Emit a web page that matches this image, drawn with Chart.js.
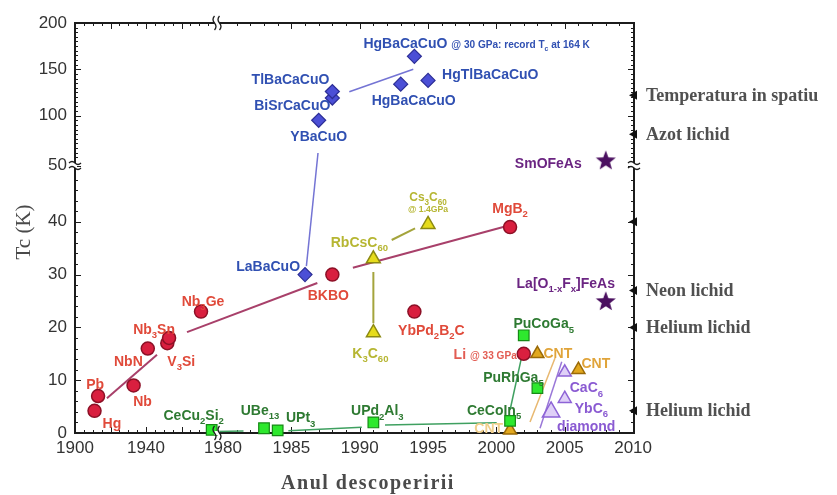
<!DOCTYPE html>
<html>
<head>
<meta charset="utf-8">
<script src="https://cdn.jsdelivr.net/npm/chart.js@4.4.1/dist/chart.umd.min.js"></script>
<style>
  html, body { margin: 0; padding: 0; background: #fff; }
  #wrap { width: 837px; height: 495px; position: relative; }
</style>
</head>
<body>
<div id="wrap"><canvas id="c" width="837" height="495"></canvas></div>
<script>
// ---- Superconductor discoveries: year and critical temperature Tc (K) ----
const convNames = ['Hg', 'Pb', 'Nb', 'NbN', 'V_{3}Si', 'Nb_{3}Sn', 'Nb_{3}Ge', 'BKBO', 'YbPd_{2}B_{2}C', 'MgB_{2}', 'Li ~{@ 33 GPa}'];
const convYears = [1911, 1913, 1933, 1941, 1952, 1953, 1971, 1988, 1994, 2001, 2002];
const convTc    = [4.2, 7, 9, 16, 17, 18, 23, 30, 23, 39, 15];

const cuprateNames = ['LaBaCuO', 'YBaCuO', 'BiSrCaCuO', 'TlBaCaCuO', 'HgBaCaCuO', 'HgBaCaCuO ~{@ 30 GPa: record T}~_{c}~{ at 164 K}', 'HgTlBaCaCuO'];
const cuprateYears = [1986, 1987, 1988, 1988, 1993, 1994, 1995];
const cuprateTc    = [30, 95, 119, 126, 134, 164, 138];

const fullereneNames = ['RbCsC_{60}', 'K_{3}C_{60}', 'Cs_{3}C_{60}|~{@ 1.4GPa}'];
const fullereneYears = [1991, 1991, 1995];
const fullereneTc    = [33, 19, 39.5];

const heavyNames = ['CeCu_{2}Si_{2}', 'UBe_{13}', 'UPt_{3}', 'UPd_{2}Al_{3}', 'CeCoIn_{5}', 'PuRhGa_{5}', 'PuCoGa_{5}'];
const heavyYears = [1977, 1983, 1984, 1991, 2001, 2003, 2002];
const heavyTc    = [0.6, 0.9, 0.5, 2, 2.3, 8.5, 18.5];

const cntNames = ['CNT', 'CNT', 'CNT'];
const cntYears = [2001, 2003, 2006];
const cntTc    = [0.5, 15, 12];

const graphiteNames = ['diamond', 'YbC_{6}', 'CaC_{6}'];
const graphiteYears = [2004, 2005, 2005];
const graphiteTc    = [4, 6.5, 11.5];

const pnictideNames = ['SmOFeAs', 'La[O_{1-x}F_{x}]FeAs'];
const pnictideYears = [2008, 2008];
const pnictideTc    = [52, 25];

// Trend lines joining each family (segment end points: year, Tc)
const convTrendYears     = [[1918.0, 1946.2], [1963.1, 1986.9], [1989.5, 2000.5]];
const convTrendTc        = [[6.6, 14.8], [19.1, 28.4], [31.3, 39.0]];
const cuprateTrendYears  = [[1986.1, 1986.95], [1989.24, 1993.92]];
const cuprateTrendTc     = [[31.6, 59.7], [125.8, 150]];
const fullereneTrendYears = [[1991, 1991], [1992.34, 1994.05]];
const fullereneTrendTc    = [[30.5, 20.8], [36.55, 38.77]];
const heavyTrendYears    = [[1979.8, 1981.5], [1984.78, 1990.15], [1991.85, 2000.02], [2001.0, 2001.85]];
const heavyTrendTc       = [[0.3, 0.4], [0.44, 1.08], [1.5, 1.95], [4.36, 14.45]];
const cntTrendYears      = [[2002.46, 2004.29]];
const cntTrendTc         = [[2.1, 14.2]];
const graphiteTrendYears = [[2003.19, 2004.78]];
const graphiteTrendTc    = [[0.9, 13.5]];

// Reference temperatures marked on the right-hand axis
const refNames = ['Temperatura in spatiu', 'Azot lichid', '', 'Neon lichid', 'Helium lichid', 'Helium lichid'];
const refTc    = [122, 80, 40, 27, 20, 4.2];

// Axis ticks
const xTickValues = [1900, 1940, 1980, 1985, 1990, 1995, 2000, 2005, 2010];
const xTickLabels = ['1900', '1940', '1980', '1985', '1990', '1995', '2000', '2005', '2010'];
const yTickValues = [0, 10, 20, 30, 40, 50, 100, 150, 200];
const yTickLabels = ['0', '10', '20', '30', '40', '50', '100', '150', '200'];

// ---- Broken axes: 1900-1980 compressed, Tc above 50 K compressed ----
const axisMaps = {
  x: {
    fwd: yr => yr < 1980 ? (yr - 1900) * 1.775 : 148 + (yr - 1980) * 13.67,
    lo: 0, hi: 559, ticks: xTickValues
  },
  y: {
    fwd: v => v < 50 ? v * 5.28 : (v > 50 ? 271 + (v - 50) * 0.927 : 267.5),
    lo: 0, hi: 410, ticks: yTickValues
  }
};

class BrokenLinearScale extends Chart.LinearScale {
  determineDataLimits() {
    const m = axisMaps[this.id];
    this.min = m.lo;
    this.max = m.hi;
  }
  buildTicks() {
    return axisMaps[this.id].ticks.map(v => ({ value: v }));
  }
  getPixelForValue(v) {
    if (v === null || v === undefined) return NaN;
    return super.getPixelForValue(axisMaps[this.id].fwd(v));
  }
}
BrokenLinearScale.id = 'brokenLinear';
BrokenLinearScale.defaults = {};
Chart.register(BrokenLinearScale);

// ---- Label placement (pixel offsets from each marker) ----
const convLabelPos = [
  [8, 12, 'left'], [-3, -12, 'center'], [9, 15, 'center'], [-5, 12, 'right'], [0, 18, 'left'],
  [-15, -9, 'center'], [2, -11, 'center'], [-4, 20, 'center'], [17, 18, 'center'], [0, -19, 'center'],
  [-7, 0, 'right', '#e25c52']
];
const cuprateLabelPos = [
  [-5, -9, 'right'], [0, 16, 'center'], [-2, 7, 'right'], [-3, -13, 'right'],
  [13, 16, 'center'], [-51, -13, 'left'], [14, -6, 'left']
];
const fullereneLabelPos = [[-14, -17, 'center'], [-3, 20, 'center'], [0, -22, 'center', null, 12]];
const heavyLabelPos = [
  [-18, -15, 'center'], [-4, -18, 'center'], [23, -13, 'center'], [4, -12, 'center'],
  [-16, -11, 'center'], [-24, -11, 'center'], [20, -12, 'center']
];
const cntLabelPos = [[-7, -2, 'right', '#f0cf8c'], [6, -1, 'left'], [3, -7, 'left']];
const graphiteLabelPos = [[6, 14, 'left'], [10, 9, 'left'], [5, 15, 'left']];
const pnictideLabelPos = [[-24, 3, 'right'], [-40, -18, 'center']];

// Filled five-pointed star used as a point style
const starImg = (() => {
  const c = document.createElement('canvas');
  c.width = 22; c.height = 22;
  const g = c.getContext('2d');
  g.beginPath();
  for (let i = 0; i < 10; i++) {
    const r = i % 2 ? 4.4 : 10.5;
    const a = -Math.PI / 2 + i * Math.PI / 5;
    g.lineTo(11 + r * Math.cos(a), 11.8 + r * Math.sin(a));
  }
  g.closePath();
  g.fillStyle = '#4b1060';
  g.fill();
  return c;
})();

function points(years, tc) {
  return years.map((yr, i) => ({ x: yr, y: tc[i] }));
}

function markerSet(names, years, tc, pos, textColor, style) {
  return Object.assign({
    data: points(years, tc),
    names: names,
    labelPos: pos,
    textColor: textColor,
    showLine: false,
    clip: false,
    order: 0
  }, style);
}

function trendSets(yearsList, tcList, color, width) {
  return yearsList.map((yrs, i) => ({
    data: points(yrs, tcList[i]),
    showLine: true,
    borderColor: color,
    borderWidth: width,
    pointRadius: 0,
    clip: false,
    order: 1
  }));
}

const datasets = [
  markerSet(convNames, convYears, convTc, convLabelPos, '#e04a3a',
    { pointStyle: 'circle', pointRadius: 6.5, backgroundColor: '#d91f3f', borderColor: '#8c1026', borderWidth: 1.5 }),
  markerSet(cuprateNames, cuprateYears, cuprateTc, cuprateLabelPos, '#3050b2',
    { pointStyle: 'rectRot', pointRadius: 7, backgroundColor: '#4b4fd6', borderColor: '#2c2e96', borderWidth: 1.2 }),
  markerSet(fullereneNames, fullereneYears, fullereneTc, fullereneLabelPos, '#b6b632',
    { pointStyle: 'triangle', pointRadius: 8, backgroundColor: '#e6dc1c', borderColor: '#8c8a12', borderWidth: 1.5 }),
  markerSet(heavyNames, heavyYears, heavyTc, heavyLabelPos, '#2e7a32',
    { pointStyle: 'rect', pointRadius: 7.5, backgroundColor: '#2ee82e', borderColor: '#168a16', borderWidth: 1.2 }),
  markerSet(cntNames, cntYears, cntTc, cntLabelPos, '#e0a43a',
    { pointStyle: 'triangle', pointRadius: 7.5, backgroundColor: '#e2a81e', borderColor: '#9a6a08', borderWidth: 1.5 }),
  markerSet(graphiteNames, graphiteYears, graphiteTc, graphiteLabelPos, '#8a5ad2',
    { pointStyle: 'triangle', pointRadius: [10, 7.5, 7.5], backgroundColor: 'rgba(196,170,240,0.55)', borderColor: '#8d63d6', borderWidth: 1.5 }),
  markerSet(pnictideNames, pnictideYears, pnictideTc, pnictideLabelPos, '#6b2582',
    { pointStyle: starImg, pointRadius: 10 }),
  ...trendSets(convTrendYears, convTrendTc, '#a8406a', 2),
  ...trendSets(cuprateTrendYears, cuprateTrendTc, '#7474d4', 1.5),
  ...trendSets(fullereneTrendYears, fullereneTrendTc, '#a4a43c', 2),
  ...trendSets(heavyTrendYears, heavyTrendTc, '#3fa060', 1.5),
  ...trendSets(cntTrendYears, cntTrendTc, '#e8b870', 1.5),
  ...trendSets(graphiteTrendYears, graphiteTrendTc, '#9a78d8', 1.5)
];

// ---- Rich text with subscripts (_{..}) and small runs (~{..}, ~_{..}) ----
const LABEL_FONT = '"Liberation Sans", Arial, sans-serif';
function runsOf(line) {
  const re = /~_\{([^}]*)\}|~\{([^}]*)\}|_\{([^}]*)\}|([^_~]+)/g;
  const out = [];
  let m;
  while ((m = re.exec(line))) {
    if (m[1] !== undefined) out.push({ t: m[1], small: true, sub: true });
    else if (m[2] !== undefined) out.push({ t: m[2], small: true, sub: false });
    else if (m[3] !== undefined) out.push({ t: m[3], small: false, sub: true });
    else out.push({ t: m[4], small: false, sub: false });
  }
  return out;
}
function drawRich(ctx, text, x, y, size, color, align) {
  const lines = text.split('|');
  const lh = size * 0.95;
  ctx.fillStyle = color;
  ctx.textBaseline = 'alphabetic';
  ctx.textAlign = 'left';
  lines.forEach((line, li) => {
    const cy = y + (li - (lines.length - 1) / 2) * lh;
    const runs = runsOf(line).map(r => {
      const base = r.small ? size * 0.72 : size;
      const s = r.sub ? base * 0.68 : base;
      ctx.font = 'bold ' + s + 'px ' + LABEL_FONT;
      return Object.assign(r, { s: s, dy: r.sub ? base * 0.3 : 0, w: ctx.measureText(r.t).width });
    });
    const total = runs.reduce((a, r) => a + r.w, 0);
    let xx = align === 'left' ? x : (align === 'right' ? x - total : x - total / 2);
    const baseline = cy + size * 0.36;
    runs.forEach(r => {
      ctx.font = 'bold ' + r.s + 'px ' + LABEL_FONT;
      ctx.fillText(r.t, xx, baseline + r.dy);
      xx += r.w;
    });
  });
}

function wavyH(ctx, x, y, half) {
  ctx.beginPath();
  ctx.moveTo(x - half, y);
  ctx.quadraticCurveTo(x - half / 2, y - 3, x, y);
  ctx.quadraticCurveTo(x + half / 2, y + 3, x + half, y);
  ctx.stroke();
}
function wavyV(ctx, x, y, half) {
  ctx.beginPath();
  ctx.moveTo(x, y - half);
  ctx.quadraticCurveTo(x - 3, y - half / 2, x, y);
  ctx.quadraticCurveTo(x + 3, y + half / 2, x, y + half);
  ctx.stroke();
}

const decorPlugin = {
  id: 'decor',
  beforeDatasetsDraw(chart) {
    const { ctx, chartArea: a, scales } = chart;
    const xs = scales.x, ys = scales.y;
    ctx.save();
    ctx.strokeStyle = '#1c1c1c';
    ctx.lineWidth = 2;
    ctx.strokeRect(a.left, a.top, a.right - a.left, a.bottom - a.top);

    ctx.lineWidth = 1;
    const yMinor = [];
    for (let v = 2; v < 50; v += 2) if (v % 10) yMinor.push(v);
    for (let v = 55; v < 200; v += 5) if (v % 50) yMinor.push(v);
    const yMajor = yTickValues.filter(v => v > 0 && v < 200);
    const tickY = (v, len) => {
      const py = Math.round(ys.getPixelForValue(v)) + 0.5;
      ctx.beginPath();
      ctx.moveTo(a.left, py); ctx.lineTo(a.left + len, py);
      ctx.moveTo(a.right, py); ctx.lineTo(a.right - len, py);
      ctx.stroke();
    };
    yMinor.forEach(v => tickY(v, 3));
    yMajor.forEach(v => tickY(v, 6));

    const xMinor = [];
    for (let yr = 1905; yr < 1980; yr += 5) if (yr % 20) xMinor.push(yr);
    for (let yr = 1981; yr < 2010; yr += 1) if (yr % 5) xMinor.push(yr);
    const xMajor = [1920, 1940, 1960, 1985, 1990, 1995, 2000, 2005];
    const tickX = (yr, len) => {
      const px = Math.round(xs.getPixelForValue(yr)) + 0.5;
      ctx.beginPath();
      ctx.moveTo(px, a.bottom); ctx.lineTo(px, a.bottom - len);
      ctx.moveTo(px, a.top); ctx.lineTo(px, a.top + len);
      ctx.stroke();
    };
    xMinor.forEach(yr => tickX(yr, 3));
    xMajor.forEach(yr => tickX(yr, 6));
    ctx.restore();
  },
  afterDatasetsDraw(chart) {
    const { ctx, chartArea: a, scales } = chart;
    const ys = scales.y;
    ctx.save();

    // marker labels
    chart.data.datasets.forEach((ds, i) => {
      if (!ds.names) return;
      const meta = chart.getDatasetMeta(i);
      meta.data.forEach((el, j) => {
        const p = ds.labelPos[j];
        drawRich(ctx, ds.names[j], el.x + p[0], el.y + p[1], p[4] || 14, p[3] || ds.textColor, p[2]);
      });
    });

    // axis breaks
    ctx.strokeStyle = '#1c1c1c';
    ctx.lineWidth = 1.3;
    const yb = ys.getPixelForValue(50);
    [a.left, a.right].forEach(x => {
      ctx.fillStyle = '#fff';
      ctx.fillRect(x - 2, yb - 2.5, 4, 5);
      wavyH(ctx, x, yb - 2.5, 6);
      wavyH(ctx, x, yb + 2.5, 6);
    });
    const xb = a.left + 142;
    [a.top, a.bottom].forEach(y => {
      ctx.fillStyle = '#fff';
      ctx.fillRect(xb - 2.5, y - 2, 5, 4);
      wavyV(ctx, xb - 2.5, y, 7);
      wavyV(ctx, xb + 2.5, y, 7);
    });

    // reference temperatures on the right
    refTc.forEach((t, i) => {
      const py = ys.getPixelForValue(t);
      ctx.fillStyle = '#111';
      ctx.beginPath();
      ctx.moveTo(a.right - 5, py);
      ctx.lineTo(a.right + 3, py - 4.5);
      ctx.lineTo(a.right + 3, py + 4.5);
      ctx.closePath();
      ctx.fill();
      if (refNames[i]) {
        ctx.fillStyle = '#505050';
        ctx.font = 'bold 18px "Liberation Serif", "Times New Roman", serif';
        ctx.textAlign = 'left';
        ctx.textBaseline = 'middle';
        ctx.fillText(refNames[i], a.right + 12, py + 1);
      }
    });

    // axis titles
    ctx.fillStyle = '#4a4a4a';
    ctx.textAlign = 'center';
    ctx.textBaseline = 'middle';
    ctx.font = 'bold 20px "Liberation Serif", "Times New Roman", serif';
    if ('letterSpacing' in ctx) ctx.letterSpacing = '1.5px';
    ctx.fillText('Anul descoperirii', 368, 484);
    if ('letterSpacing' in ctx) ctx.letterSpacing = '0px';
    ctx.translate(24, 232);
    ctx.rotate(-Math.PI / 2);
    ctx.font = '21px "Liberation Serif", "Times New Roman", serif';
    ctx.fillText('Tc (K)', 0, 0);
    ctx.restore();
  }
};

const tickFont = { family: '"Liberation Sans", Arial, sans-serif', size: 17 };

new Chart(document.getElementById('c'), {
  type: 'scatter',
  data: { datasets: datasets },
  options: {
    responsive: false,
    animation: false,
    devicePixelRatio: 1,
    events: [],
    layout: { padding: { top: 23, right: 203, bottom: 0, left: 0 } },
    plugins: { legend: { display: false }, tooltip: { enabled: false } },
    scales: {
      x: {
        type: 'brokenLinear',
        position: 'bottom',
        grid: { display: false, drawTicks: false },
        border: { display: false },
        ticks: {
          autoSkip: false, maxRotation: 0, padding: 5, color: '#333', font: tickFont,
          callback: (v, i) => xTickLabels[i]
        },
        afterFit: s => { s.height = 62; }
      },
      y: {
        type: 'brokenLinear',
        position: 'left',
        grid: { display: false, drawTicks: false },
        border: { display: false },
        ticks: {
          autoSkip: false, padding: 8, color: '#333', font: tickFont,
          callback: (v, i) => yTickLabels[i]
        },
        afterFit: s => { s.width = 75; }
      }
    }
  },
  plugins: [decorPlugin]
});
</script>
</body>
</html>
